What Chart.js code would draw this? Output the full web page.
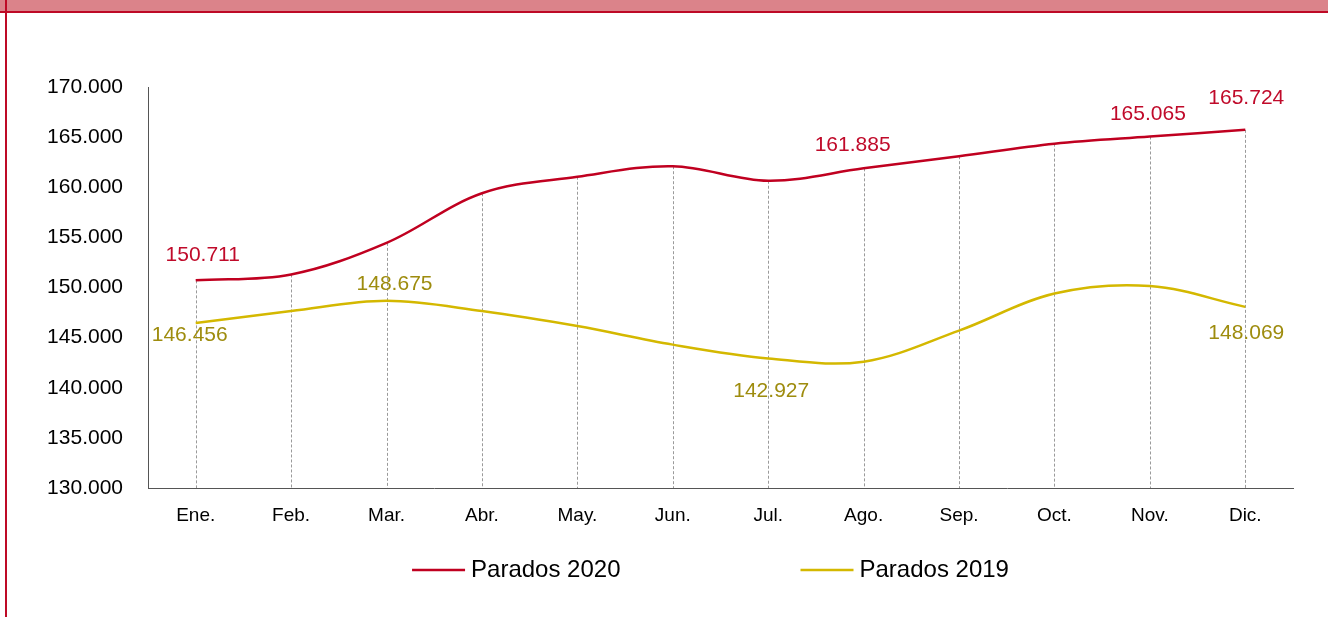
<!DOCTYPE html>
<html><head><meta charset="utf-8">
<script src="https://cdn.jsdelivr.net/npm/chart.js@4.4.1/dist/chart.umd.min.js"></script>
<style>
html,body{margin:0;padding:0;background:#fff;overflow:hidden;}
#wrap{position:relative;width:1328px;height:617px;}
#c{position:absolute;left:0;top:0;}
.band{position:absolute;left:0;top:0;width:1328px;height:11px;background:#DB838A;}
.bandline{position:absolute;left:0;top:11px;width:1328px;height:2px;background:#BE0A26;}
.lborder{position:absolute;left:5px;top:0;width:2px;height:617px;background:#BE0A26;}
</style></head><body>
<div id="wrap"><canvas id="c" width="1328" height="617"></canvas><div class="band"></div><div class="bandline"></div><div class="lborder"></div></div>
<script>
const months = ['Ene.','Feb.','Mar.','Abr.','May.','Jun.','Jul.','Ago.','Sep.','Oct.','Nov.','Dic.'];
const parados2020 = [150711,151300,154450,159400,161050,162100,160650,161885,163100,164350,165065,165724];
const parados2019 = [146456,147650,148675,147650,146150,144300,142927,142600,145700,149400,150150,148069];
const seriesNames = ['Parados 2020','Parados 2019'];
const yMin = 130000, yMax = 170000, yStep = 5000;
const labeled2020 = [0,7,10,11];
const labeled2019 = [0,2,6,11];

const RED = '#C00020', YEL = '#D4B800';
const RED_TXT = '#C00A2A', YEL_TXT = '#9E8C0E';
const FONT = "'Liberation Sans', Arial, sans-serif";

function fmt(v){ return String(Math.round(v)).replace(/\B(?=(\d{3})+(?!\d))/g,'.'); }

// label placement (style only): [dx, dy] per labelled point
const labelPlace = {
  0: {0:[7,-25], 7:[-11,-23], 10:[-2,-22], 11:[1,-32]},
  1: {0:[-6,12], 2:[8,-17], 6:[3,33], 11:[1,26]}
};
const labeledIdx = [labeled2020, labeled2019];
const labelColors = [RED_TXT, YEL_TXT];

const dropLines = {
  id:'dropLines',
  beforeDatasetsDraw(chart){
    const {ctx, chartArea, scales:{x,y}} = chart;
    ctx.save();
    ctx.strokeStyle = '#9A9A9A';
    ctx.lineWidth = 1;
    ctx.setLineDash([3,2]);
    months.forEach((m,i)=>{
      const top = Math.max(...chart.data.datasets.map(d=>d.data[i]));
      const px = Math.round(x.getPixelForValue(i))+0.5;
      ctx.beginPath();
      ctx.moveTo(px, y.getPixelForValue(top));
      ctx.lineTo(px, chartArea.bottom);
      ctx.stroke();
    });
    ctx.restore();
  }
};

const dataLabels = {
  id:'dataLabels',
  afterDatasetsDraw(chart){
    const {ctx, scales:{x,y}} = chart;
    ctx.save();
    ctx.font = '21px ' + FONT;
    ctx.textAlign = 'center';
    ctx.textBaseline = 'middle';
    chart.data.datasets.forEach((ds,di)=>{
      ctx.fillStyle = labelColors[di];
      labeledIdx[di].forEach(i=>{
        const off = labelPlace[di][i] || [0,-20];
        ctx.fillText(fmt(ds.data[i]), x.getPixelForValue(i)+off[0], y.getPixelForValue(ds.data[i])+off[1]);
      });
    });
    ctx.restore();
  }
};

const customLegend = {
  id:'customLegend',
  afterDraw(chart){
    const {ctx, chartArea} = chart;
    ctx.save();
    ctx.font = '24px ' + FONT;
    ctx.textBaseline = 'middle';
    ctx.textAlign = 'left';
    const lineLen = 53, gapT = 6, gapI = 180;
    const items = chart.data.datasets.map(d=>({text:d.label, color:d.borderColor, w:ctx.measureText(d.label).width}));
    const total = items.reduce((s,it)=>s+lineLen+gapT+it.w,0) + gapI*(items.length-1);
    let xx = (chartArea.left+chartArea.right)/2 - 10 - total/2;
    const yy = 570;
    items.forEach(it=>{
      ctx.strokeStyle = it.color; ctx.lineWidth = 2.5;
      ctx.beginPath(); ctx.moveTo(xx, yy); ctx.lineTo(xx+lineLen, yy); ctx.stroke();
      ctx.fillStyle = '#000';
      ctx.fillText(it.text, xx+lineLen+gapT, yy);
      xx += lineLen+gapT+it.w+gapI;
    });
    ctx.restore();
  }
};

Chart.defaults.font.family = FONT;
Chart.defaults.color = '#000';

new Chart(document.getElementById('c'), {
  type:'line',
  data:{
    labels: months,
    datasets:[
      {label:seriesNames[0], data:parados2020, borderColor:RED, backgroundColor:RED, borderWidth:2.5, pointRadius:0, tension:0.35, fill:false},
      {label:seriesNames[1], data:parados2019, borderColor:YEL, backgroundColor:YEL, borderWidth:2.5, pointRadius:0, tension:0.35, fill:false}
    ]
  },
  options:{
    responsive:false,
    animation:false,
    events:[],
    layout:{padding:{left:20, right:35, top:87, bottom:92}},
    plugins:{legend:{display:false}, tooltip:{enabled:false}},
    scales:{
      x:{
        offset:true,
        grid:{display:false, drawTicks:false},
        border:{display:true, color:'#555555', width:1},
        ticks:{font:{size:19}, color:'#000', padding:16, maxRotation:0, autoSkip:false},
        afterFit(s){ s.height = 37; }
      },
      y:{
        min:yMin, max:yMax,
        grid:{display:false, drawTicks:false},
        border:{display:true, color:'#555555', width:1},
        ticks:{stepSize:yStep, font:{size:21}, color:'#000', padding:25, callback:v=>fmt(v)},
        afterFit(s){ s.width = 128; }
      }
    }
  },
  plugins:[dropLines, dataLabels, customLegend]
});
</script>
</body></html>
